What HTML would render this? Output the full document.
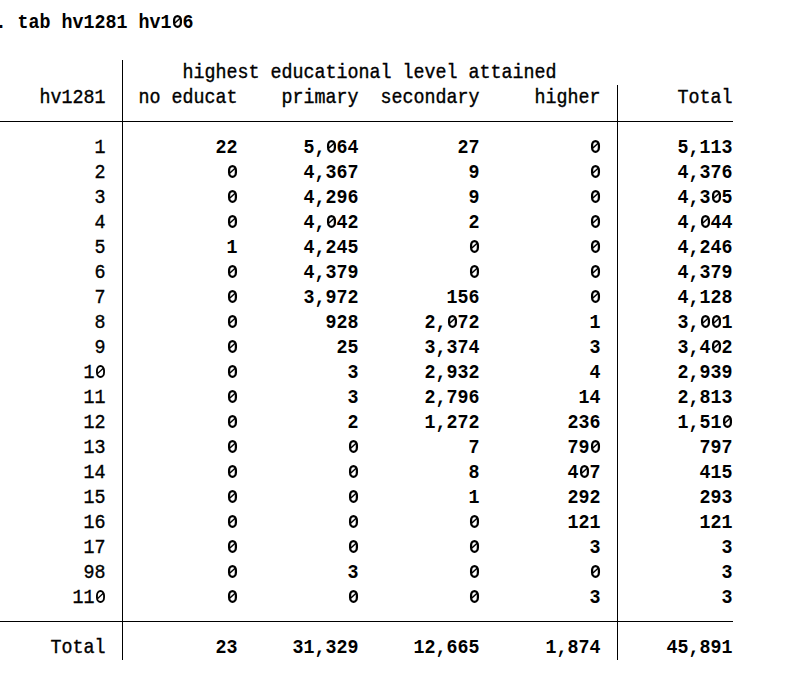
<!DOCTYPE html>
<html><head><meta charset="utf-8"><style>
html,body{margin:0;padding:0;background:#fff;}
body{width:795px;height:685px;overflow:hidden;position:relative;}
span{position:absolute;white-space:pre;transform:scaleY(1.07);transform-origin:0 17.4px;font-family:"Liberation Mono",monospace;font-size:18.3333px;line-height:25px;color:#000;}
.b{font-weight:bold;}
.r{font-weight:normal;-webkit-text-stroke:0.35px #000;}
.z{position:absolute;overflow:visible;}
.v{position:absolute;width:1px;background:#000;}
.h{position:absolute;height:1px;background:#000;left:0;}
</style></head><body>
<svg width="0" height="0" style="position:absolute"><defs>
<g id="zb" fill="none" stroke="#000"><rect x="2.6" y="5.05" width="6.8" height="10.7" rx="3.4" ry="4.3" stroke-width="2.25"/><line x1="8.6" y1="7.2" x2="3.4" y2="12.0" stroke-width="1.5"/></g>
<g id="zr" fill="none" stroke="#000"><rect x="2.45" y="5.0" width="7.1" height="11.0" rx="3.55" ry="4.5" stroke-width="1.85"/><line x1="8.8" y1="7.3" x2="3.2" y2="12.5" stroke-width="1.3"/></g>
</defs></svg>
<span class="b" style="left:-4.5px;top:11px">. tab hv1281 hv1 6</span>
<span class="r" style="left:182.5px;top:61px">highest educational level attained</span>
<span class="r" style="left:39.5px;top:86px">hv1281</span>
<span class="r" style="left:138.5px;top:86px">no educat</span>
<span class="r" style="left:281.5px;top:86px">primary</span>
<span class="r" style="left:380.5px;top:86px">secondary</span>
<span class="r" style="left:534.5px;top:86px">higher</span>
<span class="r" style="left:677.5px;top:86px">Total</span>
<span class="r" style="left:94.5px;top:136px">1</span>
<span class="b" style="left:215.5px;top:136px">22</span>
<span class="b" style="left:303.5px;top:136px">5, 64</span>
<span class="b" style="left:457.5px;top:136px">27</span>
<span class="b" style="left:589.5px;top:136px"> </span>
<span class="b" style="left:677.5px;top:136px">5,113</span>
<span class="r" style="left:94.5px;top:161px">2</span>
<span class="b" style="left:226.5px;top:161px"> </span>
<span class="b" style="left:303.5px;top:161px">4,367</span>
<span class="b" style="left:468.5px;top:161px">9</span>
<span class="b" style="left:589.5px;top:161px"> </span>
<span class="b" style="left:677.5px;top:161px">4,376</span>
<span class="r" style="left:94.5px;top:186px">3</span>
<span class="b" style="left:226.5px;top:186px"> </span>
<span class="b" style="left:303.5px;top:186px">4,296</span>
<span class="b" style="left:468.5px;top:186px">9</span>
<span class="b" style="left:589.5px;top:186px"> </span>
<span class="b" style="left:677.5px;top:186px">4,3 5</span>
<span class="r" style="left:94.5px;top:211px">4</span>
<span class="b" style="left:226.5px;top:211px"> </span>
<span class="b" style="left:303.5px;top:211px">4, 42</span>
<span class="b" style="left:468.5px;top:211px">2</span>
<span class="b" style="left:589.5px;top:211px"> </span>
<span class="b" style="left:677.5px;top:211px">4, 44</span>
<span class="r" style="left:94.5px;top:236px">5</span>
<span class="b" style="left:226.5px;top:236px">1</span>
<span class="b" style="left:303.5px;top:236px">4,245</span>
<span class="b" style="left:468.5px;top:236px"> </span>
<span class="b" style="left:589.5px;top:236px"> </span>
<span class="b" style="left:677.5px;top:236px">4,246</span>
<span class="r" style="left:94.5px;top:261px">6</span>
<span class="b" style="left:226.5px;top:261px"> </span>
<span class="b" style="left:303.5px;top:261px">4,379</span>
<span class="b" style="left:468.5px;top:261px"> </span>
<span class="b" style="left:589.5px;top:261px"> </span>
<span class="b" style="left:677.5px;top:261px">4,379</span>
<span class="r" style="left:94.5px;top:286px">7</span>
<span class="b" style="left:226.5px;top:286px"> </span>
<span class="b" style="left:303.5px;top:286px">3,972</span>
<span class="b" style="left:446.5px;top:286px">156</span>
<span class="b" style="left:589.5px;top:286px"> </span>
<span class="b" style="left:677.5px;top:286px">4,128</span>
<span class="r" style="left:94.5px;top:311px">8</span>
<span class="b" style="left:226.5px;top:311px"> </span>
<span class="b" style="left:325.5px;top:311px">928</span>
<span class="b" style="left:424.5px;top:311px">2, 72</span>
<span class="b" style="left:589.5px;top:311px">1</span>
<span class="b" style="left:677.5px;top:311px">3,  1</span>
<span class="r" style="left:94.5px;top:336px">9</span>
<span class="b" style="left:226.5px;top:336px"> </span>
<span class="b" style="left:336.5px;top:336px">25</span>
<span class="b" style="left:424.5px;top:336px">3,374</span>
<span class="b" style="left:589.5px;top:336px">3</span>
<span class="b" style="left:677.5px;top:336px">3,4 2</span>
<span class="r" style="left:83.5px;top:361px">1 </span>
<span class="b" style="left:226.5px;top:361px"> </span>
<span class="b" style="left:347.5px;top:361px">3</span>
<span class="b" style="left:424.5px;top:361px">2,932</span>
<span class="b" style="left:589.5px;top:361px">4</span>
<span class="b" style="left:677.5px;top:361px">2,939</span>
<span class="r" style="left:83.5px;top:386px">11</span>
<span class="b" style="left:226.5px;top:386px"> </span>
<span class="b" style="left:347.5px;top:386px">3</span>
<span class="b" style="left:424.5px;top:386px">2,796</span>
<span class="b" style="left:578.5px;top:386px">14</span>
<span class="b" style="left:677.5px;top:386px">2,813</span>
<span class="r" style="left:83.5px;top:411px">12</span>
<span class="b" style="left:226.5px;top:411px"> </span>
<span class="b" style="left:347.5px;top:411px">2</span>
<span class="b" style="left:424.5px;top:411px">1,272</span>
<span class="b" style="left:567.5px;top:411px">236</span>
<span class="b" style="left:677.5px;top:411px">1,51 </span>
<span class="r" style="left:83.5px;top:436px">13</span>
<span class="b" style="left:226.5px;top:436px"> </span>
<span class="b" style="left:347.5px;top:436px"> </span>
<span class="b" style="left:468.5px;top:436px">7</span>
<span class="b" style="left:567.5px;top:436px">79 </span>
<span class="b" style="left:699.5px;top:436px">797</span>
<span class="r" style="left:83.5px;top:461px">14</span>
<span class="b" style="left:226.5px;top:461px"> </span>
<span class="b" style="left:347.5px;top:461px"> </span>
<span class="b" style="left:468.5px;top:461px">8</span>
<span class="b" style="left:567.5px;top:461px">4 7</span>
<span class="b" style="left:699.5px;top:461px">415</span>
<span class="r" style="left:83.5px;top:486px">15</span>
<span class="b" style="left:226.5px;top:486px"> </span>
<span class="b" style="left:347.5px;top:486px"> </span>
<span class="b" style="left:468.5px;top:486px">1</span>
<span class="b" style="left:567.5px;top:486px">292</span>
<span class="b" style="left:699.5px;top:486px">293</span>
<span class="r" style="left:83.5px;top:511px">16</span>
<span class="b" style="left:226.5px;top:511px"> </span>
<span class="b" style="left:347.5px;top:511px"> </span>
<span class="b" style="left:468.5px;top:511px"> </span>
<span class="b" style="left:567.5px;top:511px">121</span>
<span class="b" style="left:699.5px;top:511px">121</span>
<span class="r" style="left:83.5px;top:536px">17</span>
<span class="b" style="left:226.5px;top:536px"> </span>
<span class="b" style="left:347.5px;top:536px"> </span>
<span class="b" style="left:468.5px;top:536px"> </span>
<span class="b" style="left:589.5px;top:536px">3</span>
<span class="b" style="left:721.5px;top:536px">3</span>
<span class="r" style="left:83.5px;top:561px">98</span>
<span class="b" style="left:226.5px;top:561px"> </span>
<span class="b" style="left:347.5px;top:561px">3</span>
<span class="b" style="left:468.5px;top:561px"> </span>
<span class="b" style="left:589.5px;top:561px"> </span>
<span class="b" style="left:721.5px;top:561px">3</span>
<span class="r" style="left:72.5px;top:586px">11 </span>
<span class="b" style="left:226.5px;top:586px"> </span>
<span class="b" style="left:347.5px;top:586px"> </span>
<span class="b" style="left:468.5px;top:586px"> </span>
<span class="b" style="left:589.5px;top:586px">3</span>
<span class="b" style="left:721.5px;top:586px">3</span>
<span class="r" style="left:50.5px;top:636px">Total</span>
<span class="b" style="left:215.5px;top:636px">23</span>
<span class="b" style="left:292.5px;top:636px">31,329</span>
<span class="b" style="left:413.5px;top:636px">12,665</span>
<span class="b" style="left:545.5px;top:636px">1,874</span>
<span class="b" style="left:666.5px;top:636px">45,891</span>
<svg class="z zb" style="left:171px;top:11px" width="11" height="25" viewBox="-0.50 0 11 25"><use href="#zb"/></svg>
<svg class="z zb" style="left:325px;top:136px" width="11" height="25" viewBox="-0.50 0 11 25"><use href="#zb"/></svg>
<svg class="z zb" style="left:589px;top:136px" width="11" height="25" viewBox="-0.50 0 11 25"><use href="#zb"/></svg>
<svg class="z zb" style="left:226px;top:161px" width="11" height="25" viewBox="-0.50 0 11 25"><use href="#zb"/></svg>
<svg class="z zb" style="left:589px;top:161px" width="11" height="25" viewBox="-0.50 0 11 25"><use href="#zb"/></svg>
<svg class="z zb" style="left:226px;top:186px" width="11" height="25" viewBox="-0.50 0 11 25"><use href="#zb"/></svg>
<svg class="z zb" style="left:589px;top:186px" width="11" height="25" viewBox="-0.50 0 11 25"><use href="#zb"/></svg>
<svg class="z zb" style="left:710px;top:186px" width="11" height="25" viewBox="-0.50 0 11 25"><use href="#zb"/></svg>
<svg class="z zb" style="left:226px;top:211px" width="11" height="25" viewBox="-0.50 0 11 25"><use href="#zb"/></svg>
<svg class="z zb" style="left:325px;top:211px" width="11" height="25" viewBox="-0.50 0 11 25"><use href="#zb"/></svg>
<svg class="z zb" style="left:589px;top:211px" width="11" height="25" viewBox="-0.50 0 11 25"><use href="#zb"/></svg>
<svg class="z zb" style="left:699px;top:211px" width="11" height="25" viewBox="-0.50 0 11 25"><use href="#zb"/></svg>
<svg class="z zb" style="left:468px;top:236px" width="11" height="25" viewBox="-0.50 0 11 25"><use href="#zb"/></svg>
<svg class="z zb" style="left:589px;top:236px" width="11" height="25" viewBox="-0.50 0 11 25"><use href="#zb"/></svg>
<svg class="z zb" style="left:226px;top:261px" width="11" height="25" viewBox="-0.50 0 11 25"><use href="#zb"/></svg>
<svg class="z zb" style="left:468px;top:261px" width="11" height="25" viewBox="-0.50 0 11 25"><use href="#zb"/></svg>
<svg class="z zb" style="left:589px;top:261px" width="11" height="25" viewBox="-0.50 0 11 25"><use href="#zb"/></svg>
<svg class="z zb" style="left:226px;top:286px" width="11" height="25" viewBox="-0.50 0 11 25"><use href="#zb"/></svg>
<svg class="z zb" style="left:589px;top:286px" width="11" height="25" viewBox="-0.50 0 11 25"><use href="#zb"/></svg>
<svg class="z zb" style="left:226px;top:311px" width="11" height="25" viewBox="-0.50 0 11 25"><use href="#zb"/></svg>
<svg class="z zb" style="left:446px;top:311px" width="11" height="25" viewBox="-0.50 0 11 25"><use href="#zb"/></svg>
<svg class="z zb" style="left:699px;top:311px" width="11" height="25" viewBox="-0.50 0 11 25"><use href="#zb"/></svg>
<svg class="z zb" style="left:710px;top:311px" width="11" height="25" viewBox="-0.50 0 11 25"><use href="#zb"/></svg>
<svg class="z zb" style="left:226px;top:336px" width="11" height="25" viewBox="-0.50 0 11 25"><use href="#zb"/></svg>
<svg class="z zb" style="left:710px;top:336px" width="11" height="25" viewBox="-0.50 0 11 25"><use href="#zb"/></svg>
<svg class="z zr" style="left:94px;top:361px" width="11" height="25" viewBox="-0.50 0 11 25"><use href="#zr"/></svg>
<svg class="z zb" style="left:226px;top:361px" width="11" height="25" viewBox="-0.50 0 11 25"><use href="#zb"/></svg>
<svg class="z zb" style="left:226px;top:386px" width="11" height="25" viewBox="-0.50 0 11 25"><use href="#zb"/></svg>
<svg class="z zb" style="left:226px;top:411px" width="11" height="25" viewBox="-0.50 0 11 25"><use href="#zb"/></svg>
<svg class="z zb" style="left:721px;top:411px" width="11" height="25" viewBox="-0.50 0 11 25"><use href="#zb"/></svg>
<svg class="z zb" style="left:226px;top:436px" width="11" height="25" viewBox="-0.50 0 11 25"><use href="#zb"/></svg>
<svg class="z zb" style="left:347px;top:436px" width="11" height="25" viewBox="-0.50 0 11 25"><use href="#zb"/></svg>
<svg class="z zb" style="left:589px;top:436px" width="11" height="25" viewBox="-0.50 0 11 25"><use href="#zb"/></svg>
<svg class="z zb" style="left:226px;top:461px" width="11" height="25" viewBox="-0.50 0 11 25"><use href="#zb"/></svg>
<svg class="z zb" style="left:347px;top:461px" width="11" height="25" viewBox="-0.50 0 11 25"><use href="#zb"/></svg>
<svg class="z zb" style="left:578px;top:461px" width="11" height="25" viewBox="-0.50 0 11 25"><use href="#zb"/></svg>
<svg class="z zb" style="left:226px;top:486px" width="11" height="25" viewBox="-0.50 0 11 25"><use href="#zb"/></svg>
<svg class="z zb" style="left:347px;top:486px" width="11" height="25" viewBox="-0.50 0 11 25"><use href="#zb"/></svg>
<svg class="z zb" style="left:226px;top:511px" width="11" height="25" viewBox="-0.50 0 11 25"><use href="#zb"/></svg>
<svg class="z zb" style="left:347px;top:511px" width="11" height="25" viewBox="-0.50 0 11 25"><use href="#zb"/></svg>
<svg class="z zb" style="left:468px;top:511px" width="11" height="25" viewBox="-0.50 0 11 25"><use href="#zb"/></svg>
<svg class="z zb" style="left:226px;top:536px" width="11" height="25" viewBox="-0.50 0 11 25"><use href="#zb"/></svg>
<svg class="z zb" style="left:347px;top:536px" width="11" height="25" viewBox="-0.50 0 11 25"><use href="#zb"/></svg>
<svg class="z zb" style="left:468px;top:536px" width="11" height="25" viewBox="-0.50 0 11 25"><use href="#zb"/></svg>
<svg class="z zb" style="left:226px;top:561px" width="11" height="25" viewBox="-0.50 0 11 25"><use href="#zb"/></svg>
<svg class="z zb" style="left:468px;top:561px" width="11" height="25" viewBox="-0.50 0 11 25"><use href="#zb"/></svg>
<svg class="z zb" style="left:589px;top:561px" width="11" height="25" viewBox="-0.50 0 11 25"><use href="#zb"/></svg>
<svg class="z zr" style="left:94px;top:586px" width="11" height="25" viewBox="-0.50 0 11 25"><use href="#zr"/></svg>
<svg class="z zb" style="left:226px;top:586px" width="11" height="25" viewBox="-0.50 0 11 25"><use href="#zb"/></svg>
<svg class="z zb" style="left:347px;top:586px" width="11" height="25" viewBox="-0.50 0 11 25"><use href="#zb"/></svg>
<svg class="z zb" style="left:468px;top:586px" width="11" height="25" viewBox="-0.50 0 11 25"><use href="#zb"/></svg>
<div class="v" style="left:122px;top:60px;height:600px"></div>
<div class="v" style="left:617px;top:85px;height:575px"></div>
<div class="h" style="top:121px;width:733px"></div>
<div class="h" style="top:621px;width:733px"></div>
</body></html>
